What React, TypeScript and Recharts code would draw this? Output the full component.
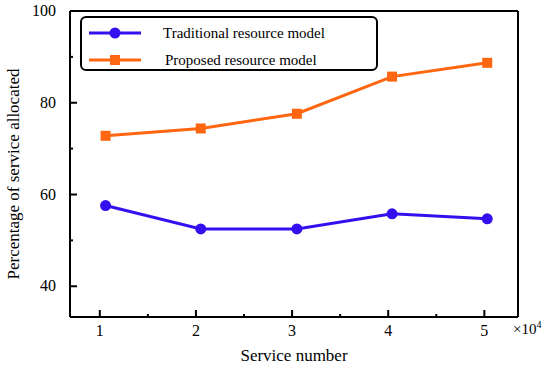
import React from "react";
import { LineChart, Line, XAxis, YAxis, Label } from "recharts";

const serviceNumbers = [1.06, 2.05, 3.05, 4.04, 5.03];
const traditional = [57.6, 52.5, 52.5, 55.8, 54.7];
const proposed = [72.8, 74.4, 77.6, 85.7, 88.7];
const xTicks = [1, 1.5, 2, 2.5, 3, 3.5, 4, 4.5, 5];
const yTicks = [40, 50, 60, 70, 80, 90, 100];
const seriesNames = ["Traditional resource model", "Proposed resource model"];

const BLUE = "#3311EE";
const ORANGE = "#FF6611";
const FONT = "'Liberation Serif', 'Times New Roman', serif";
const TXT = { fontFamily: FONT };

const data = serviceNumbers.map((x, i) => ({
  x,
  traditional: traditional[i],
  proposed: proposed[i],
}));

const XTick = (props: any) => {
  const { x, y, payload } = props;
  const v = payload.value;
  const major = Number.isInteger(v);
  return (
    <g>
      <line x1={x} x2={x} y1={y} y2={y - (major ? 7 : 3)} stroke="#000" strokeWidth={2} />
      {major && (
        <text x={x} y={y + 19} textAnchor="middle" style={TXT} fontSize={16} fill="#000">
          {v}
        </text>
      )}
    </g>
  );
};

const YTick = (props: any) => {
  const { x, y, payload } = props;
  const v = payload.value;
  const major = v % 20 === 0;
  return (
    <g>
      {v < 100 && (
        <line x1={x} x2={x + (major ? 7 : 3)} y1={y} y2={y} stroke="#000" strokeWidth={2} />
      )}
      {major && (
        <text x={x - 14} y={y + 5} textAnchor="end" style={TXT} fontSize={16} fill="#000">
          {v}
        </text>
      )}
    </g>
  );
};

const LegendBox = () => (
  <div
    style={{
      position: "absolute",
      left: 80,
      top: 16,
      width: 294,
      height: 51,
      border: "2px solid #000",
      borderRadius: 6,
      background: "#fff",
      fontFamily: FONT,
      fontSize: 15,
    }}
  >
    {[0, 1].map((i) => (
      <div key={i} style={{ position: "absolute", left: 0, top: i === 0 ? 6 : 33, height: 18, width: 294 }}>
        <svg width={60} height={18} style={{ position: "absolute", left: 5, top: 0 }}>
          <line x1={2} x2={54} y1={9} y2={9} stroke={i === 0 ? BLUE : ORANGE} strokeWidth={3} />
          {i === 0 ? (
            <circle cx={28} cy={9} r={5.5} fill={BLUE} />
          ) : (
            <rect x={23} y={4} width={10} height={10} fill={ORANGE} />
          )}
        </svg>
        <span style={{ position: "absolute", left: i === 0 ? 81 : 83, top: 0, lineHeight: "18px", whiteSpace: "nowrap" }}>
          {seriesNames[i]}
        </span>
      </div>
    ))}
  </div>
);

export default function App() {
  return (
    <div style={{ position: "absolute", left: 0, top: 0, width: 550, height: 367, background: "#fff" }}>
      <LineChart width={550} height={367} data={data} margin={{ top: 10, right: 31, bottom: 0, left: 0 }}>
        <XAxis
          xAxisId="b"
          dataKey="x"
          type="number"
          domain={[0.69, 5.35]}
          ticks={xTicks}
          allowDataOverflow
          height={50}
          tickSize={0}
          tickMargin={0}
          tickLine={false}
          axisLine={{ stroke: "#000", strokeWidth: 2 }}
          tick={<XTick />}
          interval={0}
        >
          <Label
            content={(p: any) => {
              const vb = p.viewBox;
              return (
                <text x={vb.x + vb.width / 2} y={vb.y + 44} textAnchor="middle" style={TXT} fontSize={17} fill="#000">
                  Service number
                </text>
              );
            }}
          />
          <Label
            content={(p: any) => {
              const vb = p.viewBox;
              return (
                <text x={vb.x + vb.width - 5} y={vb.y + 17} textAnchor="start" style={TXT} fontSize={15} fill="#000">
                  ×10<tspan dy={-6} fontSize={10}>4</tspan>
                </text>
              );
            }}
          />
        </XAxis>
        <XAxis
          xAxisId="t"
          orientation="top"
          type="number"
          dataKey="x"
          domain={[0.69, 5.35]}
          allowDataOverflow
          height={1}
          tick={false}
          tickLine={false}
          axisLine={{ stroke: "#000", strokeWidth: 2 }}
        />
        <YAxis
          yAxisId="l"
          type="number"
          domain={[33.3, 100]}
          ticks={yTicks}
          allowDataOverflow
          width={70}
          tickSize={0}
          tickMargin={0}
          tickLine={false}
          axisLine={{ stroke: "#000", strokeWidth: 2 }}
          tick={<YTick />}
          interval={0}
        >
          <Label
            content={(p: any) => {
              const vb = p.viewBox;
              const cy = vb.y + vb.height / 2 + 10;
              return (
                <text
                  x={19}
                  y={cy}
                  transform={`rotate(-90, 19, ${cy})`}
                  textAnchor="middle"
                  style={TXT}
                  fontSize={17}
                  fill="#000"
                >
                  Percentage of service allocated
                </text>
              );
            }}
          />
        </YAxis>
        <YAxis
          yAxisId="r"
          orientation="right"
          type="number"
          domain={[33.3, 100]}
          allowDataOverflow
          width={1}
          tick={false}
          tickLine={false}
          axisLine={{ stroke: "#000", strokeWidth: 2 }}
        />
        <Line
          xAxisId="b"
          yAxisId="l"
          type="linear"
          dataKey="traditional"
          name={seriesNames[0]}
          stroke={BLUE}
          strokeWidth={3}
          dot={{ r: 5.5, fill: BLUE, stroke: BLUE, strokeWidth: 0 }}
          isAnimationActive={false}
        />
        <Line
          xAxisId="b"
          yAxisId="l"
          type="linear"
          dataKey="proposed"
          name={seriesNames[1]}
          stroke={ORANGE}
          strokeWidth={3}
          dot={(p: any) => (
            <rect key={`s${p.index}`} x={p.cx - 5} y={p.cy - 5} width={10} height={10} fill={ORANGE} />
          )}
          isAnimationActive={false}
        />
      </LineChart>
      <LegendBox />
    </div>
  );
}
